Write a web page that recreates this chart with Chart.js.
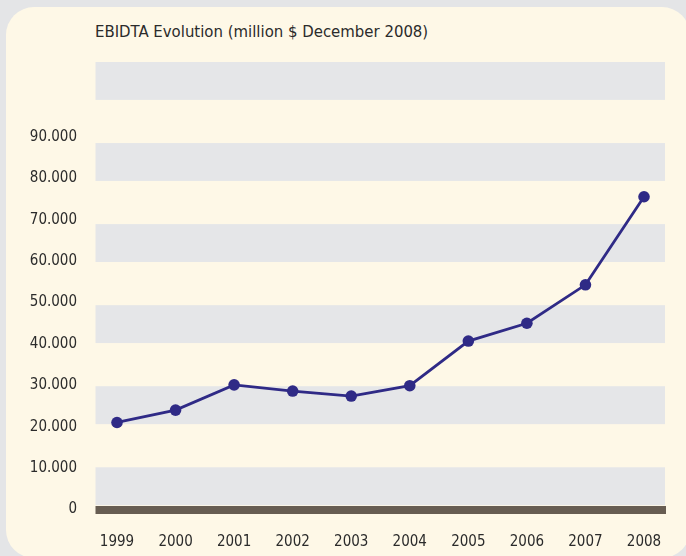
<!DOCTYPE html>
<html>
<head>
<meta charset="utf-8">
<script src="https://cdn.jsdelivr.net/npm/chart.js@4.4.1/dist/chart.umd.min.js"></script>
<style>
    html, body { margin: 0; padding: 0; }
    body {
        width: 686px; height: 556px; overflow: hidden; position: relative;
        background: #e4e5e7;
        font-family: "Liberation Sans Narrow", "DejaVu Sans Condensed", sans-serif;
    }
    #card {
        position: absolute; left: 6px; top: 7px; width: 684px; height: 551px;
        background: #fef8e7; border-radius: 28px;
    }
    #title {
        position: absolute; left: 95px; top: 22px;
        font-size: 16.6px; line-height: 20px; color: #2b2b2b; white-space: nowrap;
    }
    #chartBox { position: absolute; left: 0; top: 0; width: 686px; height: 556px; }
</style>
</head>
<body>
<div id="card"></div>
<div id="title">EBIDTA Evolution (million $ December 2008)</div>
<div id="chartBox"><canvas id="ebitdaChart" width="686" height="556"></canvas></div>

<script>
// Data
const years = ['1999', '2000', '2001', '2002', '2003', '2004', '2005', '2006', '2007', '2008'];
const ebitda = [21000, 24000, 30100, 28600, 27400, 29900, 40700, 45000, 54300, 75600];
const yTicks = [0, 10000, 20000, 30000, 40000, 50000, 60000, 70000, 80000, 90000];
const bandStarts = [0, 20000, 40000, 60000, 80000, 100000];

const textColor = '#2b2b2b';
const lineColor = '#2f2a86';

Chart.defaults.font.family = '"Liberation Sans Narrow", "DejaVu Sans Condensed", sans-serif';
Chart.defaults.font.size = 15;
Chart.defaults.color = textColor;

// Gray bands + brown zero bar behind the line
const bandPlugin = {
    id: 'bands',
    beforeDatasetsDraw(chart) {
        const { ctx, chartArea, scales } = chart;
        const yb = scales.yb;
        const left = chartArea.left - 21.5;
        const right = chartArea.right + 21;
        ctx.save();
        ctx.fillStyle = '#e5e6e8';
        bandStarts.forEach(v => {
            const top = yb.getPixelForValue(v + 10000);
            const bottom = yb.getPixelForValue(v + 650);
            ctx.fillRect(left, top, right - left, bottom - top);
        });
        const y0 = scales.y.getPixelForValue(0);
        ctx.fillStyle = '#675d52';
        ctx.fillRect(left, y0 - 3.3, right - left + 1, 8);
        ctx.restore();
    }
};

const ctx = document.getElementById('ebitdaChart').getContext('2d');
new Chart(ctx, {
    type: 'line',
    data: {
        labels: years,
        datasets: [{
            data: ebitda,
            borderColor: lineColor,
            backgroundColor: lineColor,
            borderWidth: 2.8,
            tension: 0,
            pointRadius: 5.8,
            pointBackgroundColor: lineColor,
            pointBorderWidth: 0,
            clip: false,
            yAxisID: 'y'
        }]
    },
    options: {
        responsive: false,
        devicePixelRatio: 1,
        animation: false,
        events: [],
        layout: { padding: { top: 62, right: 42, bottom: 0, left: 0 } },
        plugins: {
            legend: { display: false },
            tooltip: { enabled: false },
            title: { display: false }
        },
        scales: {
            x: {
                type: 'category',
                offset: false,
                grid: { display: false, drawTicks: false },
                border: { display: false },
                ticks: { padding: 24, maxRotation: 0, autoSkip: false, color: textColor },
                afterFit(s) { s.height = 46.7; }
            },
            y: {
                min: 0,
                max: 108200,
                grid: { display: false, drawTicks: false },
                border: { display: false },
                afterBuildTicks(s) { s.ticks = yTicks.map(v => ({ value: v })); },
                ticks: {
                    padding: 40,
                    color: textColor,
                    callback: v => v === 0 ? '0' : (v / 1000) + '.000'
                },
                afterFit(s) {
                    s.width = 117;
                    // tick padding would otherwise push the plot area up
                    s.paddingTop = 0;
                    s.paddingBottom = 0;
                }
            },
            yb: {
                display: false,
                min: -370,
                max: 110000
            }
        }
    },
    plugins: [bandPlugin]
});
</script>
</body>
</html>
